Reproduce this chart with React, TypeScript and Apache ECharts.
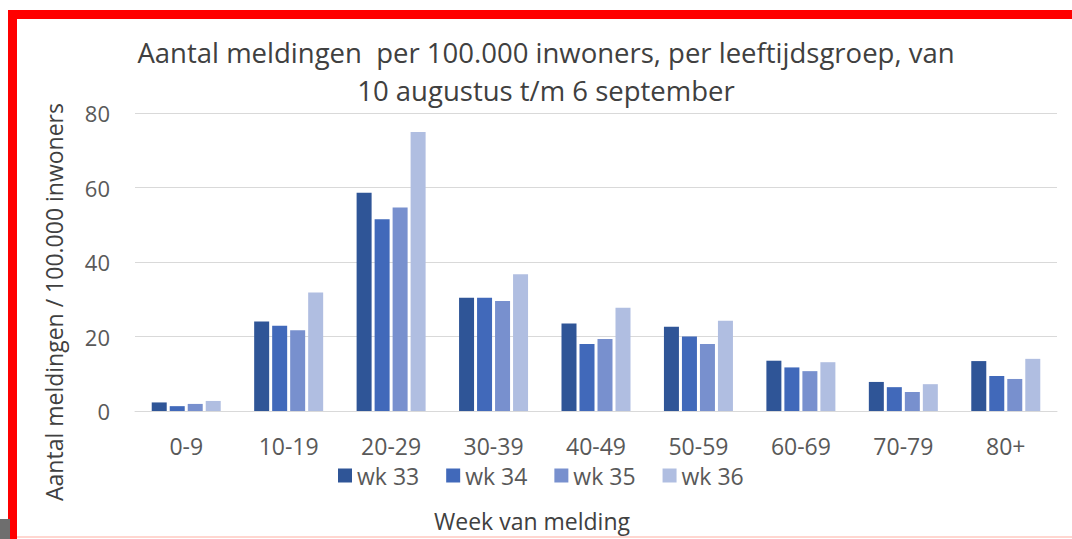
import React, { useEffect, useRef } from "react";
import * as echarts from "echarts";

const categories = ["0-9", "10-19", "20-29", "30-39", "40-49", "50-59", "60-69", "70-79", "80+"];
const seriesNames = ["wk 33", "wk 34", "wk 35", "wk 36"];
const wk33 = [2.3, 24.0, 58.6, 30.4, 23.5, 22.6, 13.5, 7.8, 13.4];
const wk34 = [1.3, 22.9, 51.5, 30.4, 18.0, 20.0, 11.7, 6.4, 9.4];
const wk35 = [1.9, 21.7, 54.6, 29.5, 19.3, 18.0, 10.7, 5.1, 8.6];
const wk36 = [2.7, 31.8, 74.9, 36.7, 27.7, 24.2, 13.1, 7.2, 14.0];
const seriesData = [wk33, wk34, wk35, wk36];
const colors = ["#2F5597", "#4169BA", "#7890CE", "#B0BEE1"];
const titleLines = [
  "Aantal meldingen  per 100.000 inwoners, per leeftijdsgroep, van",
  "10 augustus t/m 6 september",
];
const yAxisName = "Aantal meldingen / 100.000 inwoners";
const xAxisName = "Week van melding";

const FONT = "'Open Sans', sans-serif";

export default function App() {
  const ref = useRef<HTMLDivElement>(null);
  useEffect(() => {
    if (!ref.current) return;
    const chart = echarts.init(ref.current, null, { renderer: "svg" });
    chart.setOption({
      animation: false,
      backgroundColor: "#ffffff",
      textStyle: { fontFamily: FONT },
      grid: { left: 135, right: 15, top: 113, bottom: 128, containLabel: false },
      legend: {
        data: seriesNames,
        left: 333,
        top: 459,
        itemWidth: 14,
        itemHeight: 14,
        itemGap: 27,
        icon: "rect",
        textStyle: { fontSize: 23, color: "#595959", fontFamily: FONT },
      },
      xAxis: {
        type: "category",
        data: categories,
        axisTick: { show: false },
        axisLine: { lineStyle: { color: "#d9d9d9", width: 1 } },
        axisLabel: { fontSize: 23, color: "#595959", margin: 23, fontFamily: FONT },
      },
      yAxis: {
        type: "value",
        min: 0,
        max: 80,
        interval: 20,
        axisLabel: { fontSize: 22, color: "#595959", margin: 25, fontFamily: FONT },
        splitLine: { lineStyle: { color: "#d9d9d9", width: 1 } },
      },
      series: seriesData.map((d, i) => ({
        type: "bar",
        name: seriesNames[i],
        data: d,
        barWidth: 15,
        barGap: "20%",
        itemStyle: { color: colors[i] },
      })),
      graphic: [
        { type: "rect", shape: { x: 8, y: 10, width: 1064, height: 9 }, style: { fill: "#ff0000" }, silent: true },
        { type: "rect", shape: { x: 8, y: 10, width: 9, height: 529 }, style: { fill: "#ff0000" }, silent: true },
        { type: "rect", shape: { x: 17, y: 536, width: 1055, height: 2 }, style: { fill: "#ffd6d0" }, silent: true },
        { type: "rect", shape: { x: 0, y: 519, width: 10, height: 20 }, style: { fill: "#6e6e6e" }, silent: true },
        {
          type: "text",
          x: 546,
          y: 52,
          style: { text: titleLines[0], fontSize: 27.5, fill: "#404040", fontFamily: FONT, align: "center", verticalAlign: "middle" },
        },
        {
          type: "text",
          x: 546,
          y: 90,
          style: { text: titleLines[1], fontSize: 27.5, fill: "#404040", fontFamily: FONT, align: "center", verticalAlign: "middle" },
        },
        {
          type: "text",
          x: 54,
          y: 302,
          rotation: Math.PI / 2,
          style: { text: yAxisName, fontSize: 23, fill: "#404040", fontFamily: FONT, align: "center", verticalAlign: "middle" },
        },
        {
          type: "text",
          x: 532,
          y: 521,
          style: { text: xAxisName, fontSize: 23, fill: "#404040", fontFamily: FONT, align: "center", verticalAlign: "middle" },
        },
      ],
    });
    return () => chart.dispose();
  }, []);
  return (
    <div
      ref={ref}
      style={{ position: "fixed", left: 0, top: 0, width: 1072, height: 539 }}
    />
  );
}
